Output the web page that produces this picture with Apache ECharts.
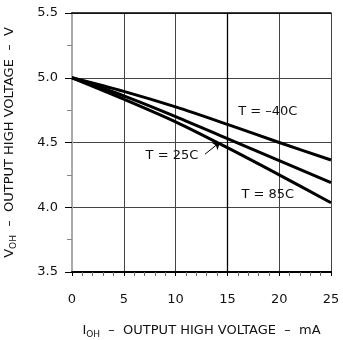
<!DOCTYPE html>
<html><head><meta charset="utf-8">
<script src="https://cdn.jsdelivr.net/npm/echarts@6/dist/echarts.min.js"></script>
<style>html,body{margin:0;padding:0;background:#fff}#c{width:343px;height:340px}</style>
</head><body><div id="c"></div>
<script>
const currentMA = [0, 5, 10, 15, 20, 25];
const vohMinus40 = [5.0, 4.895, 4.775, 4.64, 4.50, 4.365];
const voh25 = [5.0, 4.86, 4.70, 4.53, 4.36, 4.19];
const voh85 = [5.0, 4.835, 4.66, 4.46, 4.25, 4.035];
const seriesNames = ['T = –40C', 'T = 25C', 'T = 85C'];
const labelCoords = [[18.9, 4.74], [9.65, 4.397], [18.9, 4.10]];
const arrow25 = [[12.84, 4.41], [14.29, 4.503]];
const emphasizedGridX = [15];

const FONT = 'DejaVu Sans';
const pair = (xs, ys) => xs.map((x, i) => [x, ys[i]]);
const allY = [vohMinus40, voh25, voh85];

const series = allY.map((ys, i) => ({
  name: seriesNames[i],
  type: 'line',
  data: pair(currentMA, ys),
  smooth: 0.3,
  symbol: 'none',
  lineStyle: { color: '#000', width: 3 },
  z: 5,
  markPoint: {
    symbol: 'circle', symbolSize: 0,
    label: { show: true, position: 'inside', formatter: seriesNames[i], color: '#111', fontFamily: FONT, fontSize: 13 },
    data: [{ coord: labelCoords[i] }]
  }
}));
series[1].markLine = {
  silent: true,
  symbol: ['none', 'arrow'], symbolSize: 7,
  lineStyle: { color: '#000', width: 1, type: 'solid' },
  label: { show: false },
  data: [[{ coord: arrow25[0] }, { coord: arrow25[1] }]]
};
series[0].markLine = {
  silent: true, symbol: 'none',
  lineStyle: { color: '#000', width: 1.3, type: 'solid' },
  label: { show: false },
  data: emphasizedGridX.map(v => ({ xAxis: v }))
};

const rich = {
  m: { fontFamily: FONT, fontSize: 13, color: '#111' },
  s: { fontFamily: FONT, fontSize: 9, color: '#111', padding: [7, 0, 0, 0] }
};

const chart = echarts.init(document.getElementById('c'), null, { renderer: 'canvas' });
chart.setOption({
  animation: false,
  backgroundColor: '#fff',
  grid: { left: 72, right: 12, top: 13, bottom: 68, containLabel: false, outerBoundsMode: 'none' },
  xAxis: [{
    type: 'value', min: 0, max: 25, interval: 5,
    axisLine: { show: true, lineStyle: { color: '#000', width: 2 } },
    axisTick: { show: true, inside: false, length: 4, lineStyle: { color: '#000', width: 1 } },
    minorTick: { show: true, splitNumber: 5, length: 4, lineStyle: { color: '#666', width: 1 } },
    splitLine: { show: true, lineStyle: { color: '#444', width: 1 } },
    axisLabel: { color: '#111', fontFamily: FONT, fontSize: 13, margin: 21 },
    name: '{m|I}{s|OH}{m|  –  OUTPUT HIGH VOLTAGE  –  mA}',
    nameLocation: 'middle', nameGap: 51,
    nameTextStyle: { rich: rich }
  }, {
    type: 'value', position: 'top', min: 0, max: 25, interval: 5,
    axisLine: { show: true, lineStyle: { color: '#000', width: 1.5 } },
    axisTick: { show: false }, axisLabel: { show: false }, splitLine: { show: false }
  }],
  yAxis: [{
    type: 'value', min: 3.5, max: 5.5, interval: 0.5,
    axisLine: { show: true, lineStyle: { color: '#000', width: 2 } },
    axisTick: { show: true, inside: false, length: 7, lineStyle: { color: '#000', width: 1 } },
    minorTick: { show: true, splitNumber: 2, length: 5, lineStyle: { color: '#888', width: 1 } },
    splitLine: { show: true, lineStyle: { color: '#444', width: 1 } },
    axisLabel: { color: '#111', fontFamily: FONT, fontSize: 13, margin: 14, formatter: v => v.toFixed(1) },
    name: '{m|V}{s|OH}{m|  –  OUTPUT HIGH VOLTAGE  –  V}',
    nameLocation: 'middle', nameGap: 54, nameRotate: 90,
    nameTextStyle: { rich: rich }
  }, {
    type: 'value', position: 'right', min: 3.5, max: 5.5, interval: 0.5,
    axisLine: { show: true, lineStyle: { color: '#aaa', width: 2 } },
    axisTick: { show: false }, axisLabel: { show: false }, splitLine: { show: false }
  }],
  series: series
});
</script></body></html>
